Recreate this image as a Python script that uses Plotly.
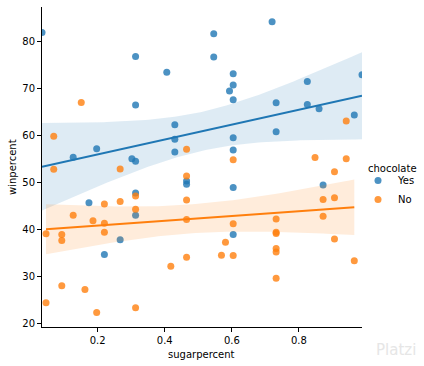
import numpy as np
import plotly.graph_objects as go

# chocolate == Yes
yes_sugar = [0.732, 0.604, 0.465, 0.604, 0.604, 0.127, 0.430, 0.430, 0.430, 0.197,
             0.313, 0.825, 0.825, 0.302, 0.604, 0.732, 0.965, 0.313, 0.313, 0.604,
             0.313, 0.593, 0.034, 0.720, 0.406, 0.988, 0.860, 0.220, 0.267, 0.546,
             0.604, 0.604, 0.313, 0.174, 0.465, 0.546, 0.872]
yes_win = [66.97, 67.60, 50.35, 56.91, 38.98, 55.38, 62.28, 56.49, 59.24, 57.22,
           76.77, 71.47, 66.57, 55.06, 73.10, 60.80, 64.35, 47.83, 54.53, 70.74,
           66.47, 69.48, 81.87, 84.18, 73.43, 72.89, 65.72, 34.72, 37.89, 76.67,
           59.53, 48.98, 43.07, 45.74, 49.65, 81.64, 49.52]

# chocolate == No
no_sugar = [0.906, 0.313, 0.906, 0.604, 0.732, 0.046, 0.732, 0.732, 0.127, 0.732,
            0.906, 0.465, 0.465, 0.465, 0.465, 0.093, 0.220, 0.046, 0.267, 0.872,
            0.848, 0.197, 0.220, 0.465, 0.093, 0.604, 0.581, 0.732, 0.732, 0.872,
            0.941, 0.941, 0.267, 0.069, 0.069, 0.151, 0.569, 0.965, 0.418, 0.162,
            0.604, 0.313, 0.220, 0.093, 0.313, 0.186]
no_win = [52.34, 23.42, 38.01, 34.52, 36.02, 24.52, 42.27, 39.46, 43.09, 39.19,
          46.78, 57.12, 34.16, 51.41, 42.18, 28.13, 41.39, 39.14, 52.91, 46.41,
          55.35, 22.45, 39.45, 46.30, 37.72, 41.27, 37.35, 35.29, 29.70, 42.85,
          63.08, 55.10, 45.99, 59.86, 52.83, 67.04, 34.58, 33.44, 32.23, 27.30,
          54.86, 47.17, 45.47, 39.01, 44.38, 41.90]

groups = [("Yes", yes_sugar, yes_win, "#1f77b4", "rgba(31,119,180,0.15)", 2.03),
          ("No", no_sugar, no_win, "#ff7f0e", "rgba(255,127,14,0.15)", 2.015)]

FONT = "DejaVu Sans"

fig = go.Figure()
for name, xs, ys, col, fcol, tval in groups:
    x = np.array(xs); y = np.array(ys)
    fig.add_trace(go.Scatter(x=x, y=y, mode="markers", name=name,
                             marker=dict(color=col, size=7, opacity=0.8, line=dict(width=0)),
                             legendgroup=name))
    b, a = np.polyfit(x, y, 1)
    n = len(x)
    resid = y - (a + b * x)
    s = np.sqrt(np.sum(resid ** 2) / (n - 2))
    xbar = x.mean(); sxx = np.sum((x - xbar) ** 2)
    gx = np.linspace(x.min(), x.max(), 100)
    gy = a + b * gx
    se = s * np.sqrt(1 / n + (gx - xbar) ** 2 / sxx)
    fig.add_trace(go.Scatter(x=gx, y=gy + tval * se, mode="lines", line=dict(width=0),
                             showlegend=False, hoverinfo="skip"))
    fig.add_trace(go.Scatter(x=gx, y=gy - tval * se, mode="lines", line=dict(width=0),
                             fill="tonexty", fillcolor=fcol, showlegend=False, hoverinfo="skip"))
    fig.add_trace(go.Scatter(x=gx, y=gy, mode="lines", line=dict(color=col, width=2),
                             showlegend=False, hoverinfo="skip"))

axis_common = dict(showgrid=False, zeroline=False, showline=True, linecolor="black",
                   linewidth=1, ticks="outside", ticklen=4, tickcolor="black",
                   automargin=False,
                   tickfont=dict(family=FONT, size=10, color="black"))
fig.update_xaxes(range=[0.034, 0.988], tickvals=[0.2, 0.4, 0.6, 0.8],
                 ticktext=["0.2", "0.4", "0.6", "0.8"], **axis_common)
fig.update_yaxes(range=[19.35, 87.3], tickvals=[20, 30, 40, 50, 60, 70, 80], **axis_common)

L, R, T, B = 42, 62, 7, 39
PW, PH = 424 - L - R, 366 - T - B

def px(xp):
    return (xp - L) / PW

def py(yp):
    return (366 - B - yp) / PH

fig.add_annotation(text="sugarpercent", xref="paper", yref="paper", x=px(201), y=py(354),
                   xanchor="center", yanchor="middle", showarrow=False,
                   font=dict(family=FONT, size=10, color="black"))
fig.add_annotation(text="winpercent", xref="paper", yref="paper", x=px(12), y=py(167),
                   xanchor="center", yanchor="middle", showarrow=False, textangle=-90,
                   font=dict(family=FONT, size=10, color="black"))
fig.add_annotation(text="chocolate", xref="paper", yref="paper", x=px(366), y=py(168),
                   xanchor="left", yanchor="middle", showarrow=False,
                   font=dict(family=FONT, size=10, color="black"))
fig.add_annotation(text="Platzi", xref="paper", yref="paper", x=px(396), y=py(350),
                   xanchor="center", yanchor="middle", showarrow=False,
                   font=dict(family=FONT, size=15, color="#e6e6e6"))

fig.update_layout(width=424, height=366, plot_bgcolor="white", paper_bgcolor="white",
                  margin=dict(l=L, r=R, t=T, b=B, autoexpand=False),
                  font=dict(family=FONT, size=10, color="black"),
                  legend=dict(x=px(358), y=py(190), xanchor="left", yanchor="middle",
                              font=dict(family=FONT, size=10), itemwidth=30, tracegroupgap=0,
                              bgcolor="rgba(0,0,0,0)", borderwidth=0),
                  showlegend=True)

fig.write_html("out.html", config={"displayModeBar": False},
               post_script="document.body.style.margin='0';document.body.style.overflow='hidden';")
